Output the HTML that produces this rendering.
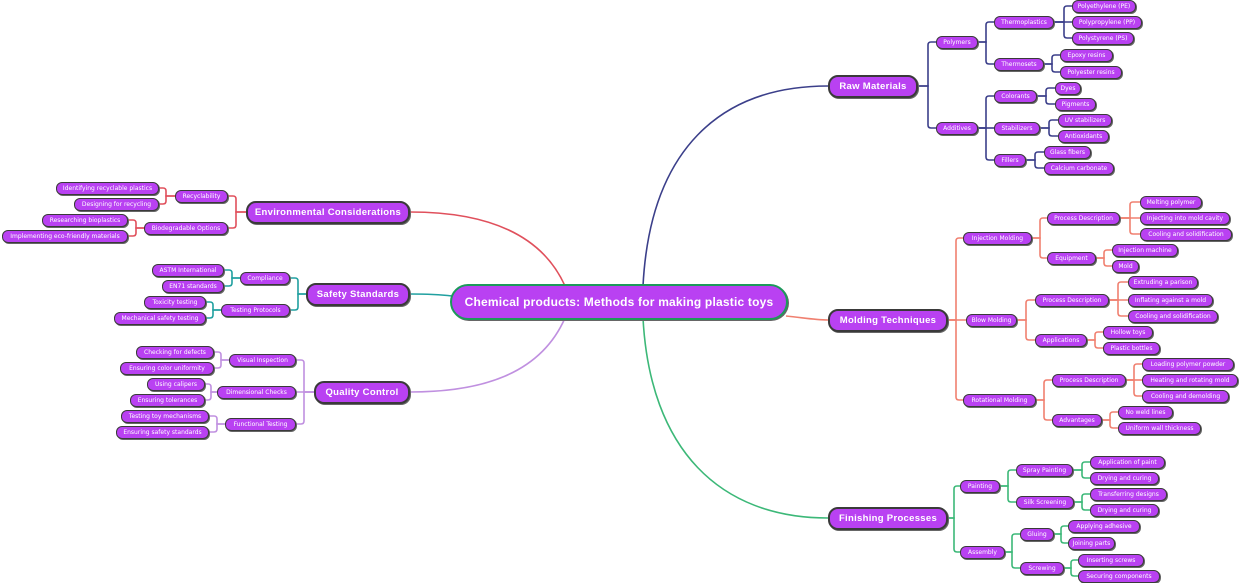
<!DOCTYPE html>
<html><head><meta charset="utf-8"><style>
body{margin:0;width:1240px;height:580px;background:#fff;position:relative;overflow:hidden;font-family:"DejaVu Sans","Liberation Sans",sans-serif}
.n{position:absolute;box-sizing:border-box;height:13px;background:#b941f2;border:1.5px solid #3a3a3a;border-radius:6px;color:#fff;font-size:6px;line-height:1;display:flex;align-items:center;justify-content:center;white-space:nowrap;box-shadow:1px 1px 0 #666;padding-top:1px}
.m{position:absolute;box-sizing:border-box;height:23px;background:#b941f2;border:2px solid #3a3a3a;border-radius:10px;color:#fff;font-family:"Liberation Sans",sans-serif;font-size:9.5px;letter-spacing:0.3px;font-weight:bold;line-height:1;display:flex;align-items:center;justify-content:center;white-space:nowrap;box-shadow:1px 1px 0 #666}
svg{position:absolute;left:0;top:0}
path{fill:none;stroke-width:1.6}
</style></head><body>
<svg width="1240" height="580">
<g stroke="#3b3f8a">
<path d="M643,286 C650,150 720,86 828,86"/>
<path d="M918,86 H928 V45 Q928,42 931,42 H936"/><path d="M918,86 H928 V125 Q928,128 931,128 H936"/>
<path d="M978,42 H986 V25 Q986,22 989,22 H994"/><path d="M978,42 H986 V61 Q986,64 989,64 H994"/>
<path d="M1054,22 H1072"/><path d="M1054,22 H1064 V9 Q1064,6 1067,6 H1072"/><path d="M1054,22 H1064 V35 Q1064,38 1067,38 H1072"/>
<path d="M1044,64 H1052 V58 Q1052,55 1055,55 H1060"/><path d="M1044,64 H1052 V69 Q1052,72 1055,72 H1060"/>
<path d="M978,128 H986 V99 Q986,96 989,96 H994"/><path d="M978,128 H994"/><path d="M978,128 H986 V157 Q986,160 989,160 H994"/>
<path d="M1037,96 H1046 V91 Q1046,88 1049,88 H1055"/><path d="M1037,96 H1046 V101 Q1046,104 1049,104 H1055"/>
<path d="M1040,128 H1049 V123 Q1049,120 1052,120 H1058"/><path d="M1040,128 H1049 V133 Q1049,136 1052,136 H1058"/>
<path d="M1026,160 H1035 V155 Q1035,152 1038,152 H1044"/><path d="M1026,160 H1035 V165 Q1035,168 1038,168 H1044"/>
</g>
<g stroke="#f08070">
<path d="M786,316 C805,318 815,320 828,320"/>
<path d="M948,320 H956 V241 Q956,238 959,238 H963"/><path d="M948,320 H966"/><path d="M948,320 H956 V397 Q956,400 959,400 H963"/>
<path d="M1032,238 H1040 V221 Q1040,218 1043,218 H1047"/><path d="M1032,238 H1040 V255 Q1040,258 1043,258 H1047"/>
<path d="M1120,218 H1130 V205 Q1130,202 1133,202 H1140"/><path d="M1120,218 H1140"/><path d="M1120,218 H1130 V231 Q1130,234 1133,234 H1140"/>
<path d="M1096,258 H1104 V253 Q1104,250 1107,250 H1112"/><path d="M1096,258 H1104 V263 Q1104,266 1107,266 H1112"/>
<path d="M1017,320 H1026 V303 Q1026,300 1029,300 H1035"/><path d="M1017,320 H1026 V337 Q1026,340 1029,340 H1035"/>
<path d="M1109,300 H1118 V285 Q1118,282 1121,282 H1128"/><path d="M1109,300 H1128"/><path d="M1109,300 H1118 V313 Q1118,316 1121,316 H1128"/>
<path d="M1087,340 H1095 V335 Q1095,332 1098,332 H1103"/><path d="M1087,340 H1095 V345 Q1095,348 1098,348 H1103"/>
<path d="M1036,400 H1044 V383 Q1044,380 1047,380 H1052"/><path d="M1036,400 H1044 V417 Q1044,420 1047,420 H1052"/>
<path d="M1126,380 H1134 V367 Q1134,364 1137,364 H1142"/><path d="M1126,380 H1142"/><path d="M1126,380 H1134 V393 Q1134,396 1137,396 H1142"/>
<path d="M1102,420 H1110 V415 Q1110,412 1113,412 H1118"/><path d="M1102,420 H1110 V425 Q1110,428 1113,428 H1118"/>
</g>
<g stroke="#3cb878">
<path d="M643,318 C650,450 720,518 828,518"/>
<path d="M948,518 H954 V489 Q954,486 957,486 H960"/><path d="M948,518 H954 V549 Q954,552 957,552 H960"/>
<path d="M1000,486 H1008 V473 Q1008,470 1011,470 H1016"/><path d="M1000,486 H1008 V499 Q1008,502 1011,502 H1016"/>
<path d="M1073,470 H1082 V465 Q1082,462 1085,462 H1090"/><path d="M1073,470 H1082 V475 Q1082,478 1085,478 H1090"/>
<path d="M1074,502 H1082 V497 Q1082,494 1085,494 H1090"/><path d="M1074,502 H1082 V507 Q1082,510 1085,510 H1090"/>
<path d="M1005,552 H1012 V537 Q1012,534 1015,534 H1020"/><path d="M1005,552 H1012 V565 Q1012,568 1015,568 H1020"/>
<path d="M1054,534 H1061 V529 Q1061,526 1064,526 H1068"/><path d="M1054,534 H1061 V540 Q1061,543 1064,543 H1068"/>
<path d="M1064,568 H1071 V563 Q1071,560 1074,560 H1078"/><path d="M1064,568 H1071 V573 Q1071,576 1074,576 H1078"/>
</g>
<g stroke="#e0505c">
<path d="M565,286 C540,230 480,212 410,212"/>
<path d="M246,212 H236 V199 Q236,196 233,196 H228"/><path d="M246,212 H236 V225 Q236,228 233,228 H228"/>
<path d="M175,196 H166 V191 Q166,188 163,188 H159"/><path d="M175,196 H166 V201 Q166,204 163,204 H159"/>
<path d="M144,228 H136 V223 Q136,220 133,220 H128"/><path d="M144,228 H136 V233 Q136,236 133,236 H128"/>
</g>
<g stroke="#20a0a0">
<path d="M452,296 C435,294 420,294 410,294"/>
<path d="M306,294 H298 V281 Q298,278 295,278 H290"/><path d="M306,294 H298 V307 Q298,310 295,310 H290"/>
<path d="M240,278 H232 V273 Q232,270 229,270 H224"/><path d="M240,278 H232 V283 Q232,286 229,286 H224"/>
<path d="M221,310 H213 V305 Q213,302 210,302 H206"/><path d="M221,310 H213 V315 Q213,318 210,318 H206"/>
</g>
<g stroke="#c090e0">
<path d="M565,318 C540,375 480,392 410,392"/>
<path d="M314,392 H304 V363 Q304,360 301,360 H296"/><path d="M314,392 H296"/><path d="M314,392 H304 V421 Q304,424 301,424 H296"/>
<path d="M229,360 H221 V355 Q221,352 218,352 H214"/><path d="M229,360 H221 V365 Q221,368 218,368 H214"/>
<path d="M217,392 H211 V387 Q211,384 208,384 H205"/><path d="M217,392 H211 V397 Q211,400 208,400 H205"/>
<path d="M225,424 H217 V419 Q217,416 214,416 H209"/><path d="M225,424 H217 V429 Q217,432 214,432 H209"/>
</g>
</svg>

<div class="m" style="left:450px;top:284px;width:338px;height:36px;border:2px solid #1c9a5a;border-radius:18px;font-size:12px;letter-spacing:0.2px">Chemical products: Methods for making plastic toys</div>

<div class="m" style="left:828px;top:75px;width:90px">Raw Materials</div>
<div class="n" style="left:936px;top:36px;width:42px">Polymers</div>
<div class="n" style="left:994px;top:16px;width:60px">Thermoplastics</div>
<div class="n" style="left:1072px;top:0px;width:64px">Polyethylene (PE)</div>
<div class="n" style="left:1072px;top:16px;width:70px">Polypropylene (PP)</div>
<div class="n" style="left:1072px;top:32px;width:62px">Polystyrene (PS)</div>
<div class="n" style="left:994px;top:58px;width:50px">Thermosets</div>
<div class="n" style="left:1060px;top:49px;width:53px">Epoxy resins</div>
<div class="n" style="left:1060px;top:66px;width:62px">Polyester resins</div>
<div class="n" style="left:936px;top:122px;width:42px">Additives</div>
<div class="n" style="left:994px;top:90px;width:43px">Colorants</div>
<div class="n" style="left:1055px;top:82px;width:26px">Dyes</div>
<div class="n" style="left:1055px;top:98px;width:41px">Pigments</div>
<div class="n" style="left:994px;top:122px;width:46px">Stabilizers</div>
<div class="n" style="left:1058px;top:114px;width:54px">UV stabilizers</div>
<div class="n" style="left:1058px;top:130px;width:51px">Antioxidants</div>
<div class="n" style="left:994px;top:154px;width:32px">Fillers</div>
<div class="n" style="left:1044px;top:146px;width:47px">Glass fibers</div>
<div class="n" style="left:1044px;top:162px;width:70px">Calcium carbonate</div>

<div class="m" style="left:828px;top:309px;width:120px">Molding Techniques</div>
<div class="n" style="left:963px;top:232px;width:69px">Injection Molding</div>
<div class="n" style="left:1047px;top:212px;width:73px">Process Description</div>
<div class="n" style="left:1140px;top:196px;width:62px">Melting polymer</div>
<div class="n" style="left:1140px;top:212px;width:90px">Injecting into mold cavity</div>
<div class="n" style="left:1140px;top:228px;width:92px">Cooling and solidification</div>
<div class="n" style="left:1047px;top:252px;width:49px">Equipment</div>
<div class="n" style="left:1112px;top:244px;width:66px">Injection machine</div>
<div class="n" style="left:1112px;top:260px;width:27px">Mold</div>
<div class="n" style="left:966px;top:314px;width:51px">Blow Molding</div>
<div class="n" style="left:1035px;top:294px;width:74px">Process Description</div>
<div class="n" style="left:1128px;top:276px;width:70px">Extruding a parison</div>
<div class="n" style="left:1128px;top:294px;width:85px">Inflating against a mold</div>
<div class="n" style="left:1128px;top:310px;width:90px">Cooling and solidification</div>
<div class="n" style="left:1035px;top:334px;width:52px">Applications</div>
<div class="n" style="left:1103px;top:326px;width:50px">Hollow toys</div>
<div class="n" style="left:1103px;top:342px;width:57px">Plastic bottles</div>
<div class="n" style="left:963px;top:394px;width:73px">Rotational Molding</div>
<div class="n" style="left:1052px;top:374px;width:74px">Process Description</div>
<div class="n" style="left:1142px;top:358px;width:92px">Loading polymer powder</div>
<div class="n" style="left:1142px;top:374px;width:96px">Heating and rotating mold</div>
<div class="n" style="left:1142px;top:390px;width:87px">Cooling and demolding</div>
<div class="n" style="left:1052px;top:414px;width:50px">Advantages</div>
<div class="n" style="left:1118px;top:406px;width:55px">No weld lines</div>
<div class="n" style="left:1118px;top:422px;width:83px">Uniform wall thickness</div>

<div class="m" style="left:828px;top:507px;width:120px">Finishing Processes</div>
<div class="n" style="left:960px;top:480px;width:40px">Painting</div>
<div class="n" style="left:1016px;top:464px;width:57px">Spray Painting</div>
<div class="n" style="left:1090px;top:456px;width:75px">Application of paint</div>
<div class="n" style="left:1090px;top:472px;width:69px">Drying and curing</div>
<div class="n" style="left:1016px;top:496px;width:58px">Silk Screening</div>
<div class="n" style="left:1090px;top:488px;width:77px">Transferring designs</div>
<div class="n" style="left:1090px;top:504px;width:69px">Drying and curing</div>
<div class="n" style="left:960px;top:546px;width:45px">Assembly</div>
<div class="n" style="left:1020px;top:528px;width:34px">Gluing</div>
<div class="n" style="left:1068px;top:520px;width:72px">Applying adhesive</div>
<div class="n" style="left:1068px;top:537px;width:47px">Joining parts</div>
<div class="n" style="left:1020px;top:562px;width:44px">Screwing</div>
<div class="n" style="left:1078px;top:554px;width:66px">Inserting screws</div>
<div class="n" style="left:1078px;top:570px;width:82px">Securing components</div>

<div class="m" style="left:246px;top:201px;width:164px">Environmental Considerations</div>
<div class="n" style="left:175px;top:190px;width:53px">Recyclability</div>
<div class="n" style="left:56px;top:182px;width:103px">Identifying recyclable plastics</div>
<div class="n" style="left:74px;top:198px;width:85px">Designing for recycling</div>
<div class="n" style="left:144px;top:222px;width:84px">Biodegradable Options</div>
<div class="n" style="left:42px;top:214px;width:86px">Researching bioplastics</div>
<div class="n" style="left:2px;top:230px;width:126px">Implementing eco-friendly materials</div>

<div class="m" style="left:306px;top:283px;width:104px">Safety Standards</div>
<div class="n" style="left:240px;top:272px;width:50px">Compliance</div>
<div class="n" style="left:152px;top:264px;width:72px">ASTM International</div>
<div class="n" style="left:162px;top:280px;width:62px">EN71 standards</div>
<div class="n" style="left:221px;top:304px;width:69px">Testing Protocols</div>
<div class="n" style="left:144px;top:296px;width:62px">Toxicity testing</div>
<div class="n" style="left:114px;top:312px;width:92px">Mechanical safety testing</div>

<div class="m" style="left:314px;top:381px;width:96px">Quality Control</div>
<div class="n" style="left:229px;top:354px;width:67px">Visual Inspection</div>
<div class="n" style="left:136px;top:346px;width:78px">Checking for defects</div>
<div class="n" style="left:120px;top:362px;width:94px">Ensuring color uniformity</div>
<div class="n" style="left:217px;top:386px;width:79px">Dimensional Checks</div>
<div class="n" style="left:147px;top:378px;width:58px">Using calipers</div>
<div class="n" style="left:130px;top:394px;width:75px">Ensuring tolerances</div>
<div class="n" style="left:225px;top:418px;width:71px">Functional Testing</div>
<div class="n" style="left:121px;top:410px;width:88px">Testing toy mechanisms</div>
<div class="n" style="left:116px;top:426px;width:93px">Ensuring safety standards</div>
</body></html>
